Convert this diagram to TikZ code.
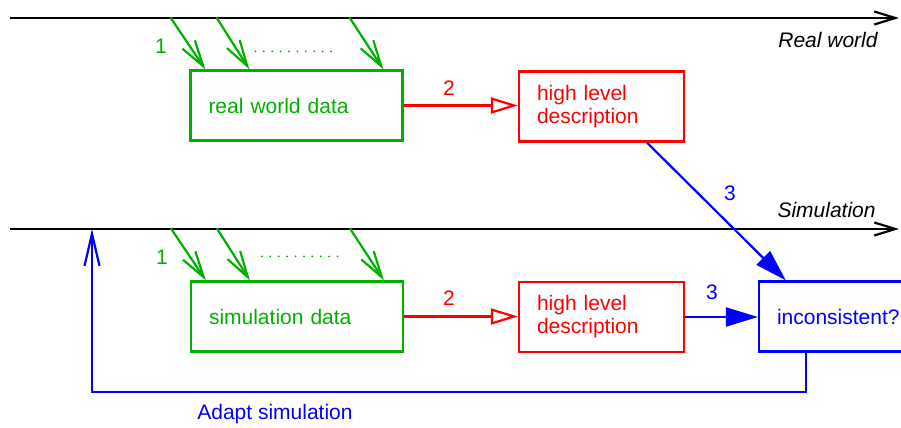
\documentclass[tikz,border=0pt]{standalone}
\usepackage{fontspec}
\setmainfont{Liberation Sans}
\usetikzlibrary{arrows.meta}

\definecolor{datagreen}{RGB}{0,176,0}

\tikzset{
	databox/.style={draw=datagreen, text=datagreen, line width=1.1pt, text width=88pt, inner xsep=9pt, minimum height=35pt, align=left},
	descbox/.style={draw=red, text=red, line width=1.1pt, text width=64.5pt, inner xsep=9pt, minimum height=35pt, align=left},
	checkbox/.style={draw=blue, text=blue, line width=1.1pt, text width=62pt, inner xsep=9pt, minimum height=35pt, align=left},
	timeline/.style={line width=1.1pt, -{Straight Barb[length=10.5pt, width=6.5pt]}},
	feed/.style={datagreen, line width=1.1pt, -{Straight Barb[length=13pt, width=7.5pt]}},
	describe/.style={red, line width=1.1pt, -{Triangle[open, length=13.5pt, width=8pt]}},
	compare/.style={blue, line width=1.1pt, -{Triangle[length=16pt, width=9.5pt]}},
	adapt/.style={blue, line width=1.1pt, -{Straight Barb[length=16pt, width=7.5pt]}},
	steplabel/.style={inner sep=0pt},
	worldlabel/.style={inner sep=0pt, anchor=east, font=\fontsize{10.5}{11.5}\selectfont\itshape}
}

\begin{document}
\begin{tikzpicture}[x=0.5pt, y=-0.5pt,
	every node/.append style={font=\fontsize{10.5}{11.5}\selectfont}]
	\useasboundingbox (0,0) rectangle (901,428);
	\clip (0,0) rectangle (901,428);

	% time lines
	\coordinate (realstart) at (10,18);
	\coordinate (realend) at (899,18);
	\coordinate (simstart) at (10,229);
	\coordinate (simend) at (899,229);
	\draw[timeline] (realstart) -- (realend);
	\draw[timeline] (simstart) -- (simend);
	\node[worldlabel] (realname) at (878,40) {Real world};
	\node[worldlabel] (simname) at (876,210) {Simulation};

	% boxes
	\node[databox] (realdata) at (296.5,105.5) {real world data};
	\node[descbox] (realdesc) at (601.5,106.5) {high level\\description};
	\node[databox] (simdata) at (297,316.5) {simulation data};
	\node[descbox] (simdesc) at (601.5,317) {high level\\description};
	\node[checkbox] (check) at (839,316.5) {inconsistent?};

	% step 1
	\foreach \dataname in {realdata, simdata}
		\foreach \s/\e in {-9.5/8, 13.5/30, 80/97}
			\draw[feed] ([shift={(\s pt,26pt)}]\dataname.north west) -- ([xshift=\e pt]\dataname.north west);
	\draw[datagreen, line width=1pt, dash pattern=on 0pt off 4.2pt, line cap=round]
		([shift={(33pt,9pt)}]realdata.north west) -- ([shift={(71pt,9pt)}]realdata.north west);
	\draw[datagreen, line width=1pt, dash pattern=on 0pt off 4.2pt, line cap=round]
		([shift={(36pt,12pt)}]simdata.north west) -- ([shift={(74pt,12pt)}]simdata.north west);
	\node[steplabel, text=datagreen] (one) at (161,46) {1};
	\node[steplabel, text=datagreen] (simone) at (162,257) {1};

	% step 2
	\draw[describe] (realdata.east) -- (realdata.east -| realdesc.west);
	\draw[describe] (simdata.east) -- (simdata.east -| simdesc.west);
	\node[steplabel, text=red] (two) at (449,88) {2};
	\node[steplabel, text=red] (simtwo) at (449,298) {2};

	% step 3
	\draw[compare] ([xshift=64.5pt]realdesc.south west) -- ([xshift=14pt]check.north west);
	\draw[compare] (simdesc.east) -- (simdesc.east -| check.west);
	\node[steplabel, text=blue] (three) at (730,193) {3};
	\node[steplabel, text=blue] (simthree) at (712,292) {3};

	% feedback
	\coordinate (adaptcorner) at (92,392);
	\coordinate (adaptend) at (92,229);
	\draw[adapt] ([xshift=24pt]check.south west) |- (adaptcorner) -- (adaptend);
	\node[steplabel, text=blue] (adaptname) at (275,414) {Adapt simulation};
\end{tikzpicture}
\end{document}
